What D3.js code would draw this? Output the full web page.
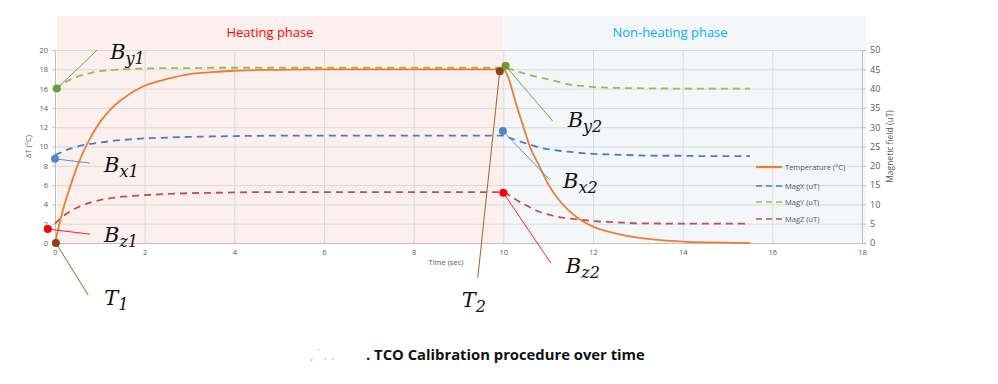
<!DOCTYPE html>
<html>
<head>
<meta charset="utf-8">
<script src="https://cdn.jsdelivr.net/npm/d3@7.9.0/dist/d3.min.js"></script>
<style>
  body { margin: 0; background: #fff; }
  svg { display: block; }
  .tick-label { font-family: "Open Sans", sans-serif; fill: #595959; }
  .math { font-family: "DejaVu Serif", serif; font-style: italic; fill: #111; }
</style>
</head>
<body>
<div id="chart"></div>
<script>
// ---- data (time in sec, temperature in °C, magnetic field in uT) ----
const heatTime = [0, 0.1, 0.2, 0.3, 0.4, 0.5, 0.6, 0.8, 1, 1.25, 1.5, 1.75, 2, 2.5, 3, 3.5, 4, 5, 6, 7, 8, 9, 10];
const heatTemp = [0, 2.0, 3.8, 5.3, 6.7, 8.0, 9.1, 11.0, 12.5, 13.9, 14.9, 15.7, 16.3, 17.0, 17.5, 17.7, 17.85, 17.95, 18, 18, 18, 18, 18];
const heatMagX = [22.8, 23.3, 23.8, 24.3, 24.7, 25.0, 25.3, 25.7, 26.0, 26.4, 26.7, 26.9, 27.1, 27.3, 27.5, 27.6, 27.7, 27.8, 27.8, 27.8, 27.8, 27.8, 27.8];
const heatMagY = [40, 40.6, 41.4, 42.1, 42.6, 43.1, 43.5, 44.1, 44.5, 44.8, 45.0, 45.1, 45.2, 45.3, 45.3, 45.4, 45.4, 45.4, 45.4, 45.4, 45.4, 45.4, 45.4];
const heatMagZ = [5, 6.1, 7.1, 7.9, 8.6, 9.2, 9.7, 10.5, 11.1, 11.6, 12.0, 12.2, 12.4, 12.7, 12.9, 13.0, 13.1, 13.2, 13.2, 13.2, 13.2, 13.2, 13.2];

const coolTime = [10, 10.1, 10.2, 10.3, 10.45, 10.6, 10.8, 11, 11.25, 11.5, 11.75, 12, 12.5, 13, 13.5, 14, 14.5, 15, 15.5];
const coolTemp = [18, 17.3, 15.8, 14.2, 12.0, 9.9, 8.0, 6.1, 4.4, 3.2, 2.3, 1.7, 1.0, 0.55, 0.3, 0.15, 0.07, 0.03, 0];
const coolMagX = [27.8, 27.4, 27.0, 26.6, 26.0, 25.5, 24.7, 24.3, 23.9, 23.6, 23.3, 23.1, 22.9, 22.7, 22.6, 22.6, 22.5, 22.5, 22.5];
const coolMagY = [45.4, 45.2, 44.9, 44.5, 44.0, 43.5, 42.9, 42.4, 41.7, 41.0, 40.7, 40.4, 40.2, 40.1, 40.05, 40, 40, 40, 40];
const coolMagZ = [13.2, 12.6, 11.8, 11.1, 10.1, 9.2, 8.1, 7.4, 6.7, 6.3, 6.0, 5.7, 5.4, 5.1, 5.05, 5.0, 5.0, 5.0, 5.0];

const xTicks = [0, 2, 4, 6, 8, 10, 12, 14, 16, 18];
const tempTicks = [0, 2, 4, 6, 8, 10, 12, 14, 16, 18, 20];
const magTicks = [0, 5, 10, 15, 20, 25, 30, 35, 40, 45, 50];

const seriesNames = ['Temperature (°C)', 'MagX (uT)', 'MagY (uT)', 'MagZ (uT)'];
const phaseNames = ['Heating phase', 'Non-heating phase'];

// annotated points: [label, subscript, time, value, axis, lineEndTime, lineEndValue]
const annotations = [
  ['B', 'y1', 0.04, 40, 'mag', 0.94, 50],
  ['B', 'x1', 0, 21.8, 'mag', 0.78, 20.7],
  ['B', 'z1', -0.16, 3.6, 'mag', 0.78, 2.3],
  ['T', '1', 0.02, 0, 'temp', 0.74, -5.4],
  ['B', 'y2', 10.05, 45.9, 'mag', 11.1, 31.6],
  ['B', 'x2', 9.99, 29.0, 'mag', 11.04, 16.3],
  ['B', 'z2', 10, 13, 'mag', 11.06, -5.2],
  ['T', '2', 9.92, 17.8, 'temp', 9.43, -3.6],
];

// ---- layout ----
const width = 998, height = 384;
const plot = { left: 55, right: 862, top: 50, bottom: 243 };

const colors = {
  temp: '#ED7D31', magX: '#4A7CC4', magY: '#9BBB59', magZ: '#C0504D',
};
const dotColors = { y: '#6F9A3B', x: '#4F86C6', z: '#FF0000', T: '#8B4513' };
const leaderColors = { y: '#7FA24A', x: '#5B8FD0', z: '#FF2020', T: '#A0612E' };
const labelOffset = [[13, 9], [14, 9], [14, 8], [16, 10], [15, 6], [13, 8], [15, 10], [-16, 29]];

const svg = d3.select('#chart').append('svg')
  .attr('width', width)
  .attr('height', height);

const xScale = d3.scaleLinear().domain([0, 18]).range([plot.left, plot.right]);
const yTemp = d3.scaleLinear().domain([0, 20]).range([plot.bottom, plot.top]);
const yMag = d3.scaleLinear().domain([0, 50]).range([plot.bottom, plot.top]);

// phase backgrounds
svg.append('rect')
  .attr('x', xScale(0) + 2).attr('y', 16)
  .attr('width', xScale(10) - xScale(0) - 2).attr('height', plot.bottom - 16)
  .attr('fill', '#FBF0EE');
svg.append('rect')
  .attr('x', xScale(10)).attr('y', 16)
  .attr('width', xScale(18) + 4 - xScale(10)).attr('height', plot.bottom - 16)
  .attr('fill', '#F3F7FA');

svg.append('text')
  .attr('x', 270).attr('y', 37)
  .attr('text-anchor', 'middle')
  .attr('font-family', '"Open Sans", sans-serif').attr('font-size', 13)
  .attr('fill', '#FF0000')
  .text(phaseNames[0]);
svg.append('text')
  .attr('x', 670).attr('y', 37)
  .attr('text-anchor', 'middle')
  .attr('font-family', '"Open Sans", sans-serif').attr('font-size', 13)
  .attr('fill', '#00B0F0')
  .text(phaseNames[1]);

// gridlines
svg.append('g')
  .attr('transform', `translate(${plot.left},0)`)
  .call(d3.axisLeft(yTemp).tickValues(tempTicks).tickFormat('').tickSize(-(plot.right - plot.left)))
  .call(g => g.select('.domain').remove())
  .call(g => g.selectAll('line').attr('stroke', '#D9D9D9'));
svg.append('g')
  .attr('transform', `translate(0,${plot.bottom})`)
  .call(d3.axisBottom(xScale).tickValues(xTicks).tickFormat('').tickSize(-(plot.bottom - plot.top)))
  .call(g => g.select('.domain').remove())
  .call(g => g.selectAll('line').attr('stroke', '#D9D9D9'));

// axes
const leftAxis = svg.append('g')
  .attr('transform', `translate(${plot.left},0)`)
  .call(d3.axisLeft(yTemp).tickValues(tempTicks).tickSize(3).tickPadding(4));
const rightAxis = svg.append('g')
  .attr('transform', `translate(${plot.right},0)`)
  .call(d3.axisRight(yMag).tickValues(magTicks).tickSize(4).tickPadding(4));
const bottomAxis = svg.append('g')
  .attr('transform', `translate(0,${plot.bottom})`)
  .call(d3.axisBottom(xScale).tickValues(xTicks).tickSize(0).tickPadding(7));

[leftAxis, rightAxis, bottomAxis].forEach(g => {
  g.selectAll('.domain').attr('stroke', '#BFBFBF');
  g.selectAll('.tick line').attr('stroke', '#BFBFBF');
  g.selectAll('.tick text')
    .attr('class', 'tick-label')
    .attr('font-size', 7.5);
});
rightAxis.selectAll('.tick text').attr('font-size', 9);

svg.append('text')
  .attr('transform', `translate(31,${(plot.top + plot.bottom) / 2}) rotate(-90)`)
  .attr('text-anchor', 'middle')
  .attr('class', 'tick-label').attr('font-size', 7.5)
  .text('ΔT (°C)');
svg.append('text')
  .attr('transform', `translate(893,${(plot.top + plot.bottom) / 2}) rotate(-90)`)
  .attr('text-anchor', 'middle')
  .attr('class', 'tick-label').attr('font-size', 8.5)
  .text('Magnetic field (uT)');
svg.append('text')
  .attr('x', 446).attr('y', 265)
  .attr('text-anchor', 'middle')
  .attr('class', 'tick-label').attr('font-size', 7.5)
  .text('Time (sec)');

// series
const series = [
  { time: heatTime.concat(coolTime.slice(1)), values: heatTemp.concat(coolTemp.slice(1)), y: yTemp, color: colors.temp, dash: null },
  { time: heatTime.concat(coolTime.slice(1)), values: heatMagX.concat(coolMagX.slice(1)), y: yMag, color: colors.magX, dash: '7,5' },
  { time: heatTime.concat(coolTime.slice(1)), values: heatMagY.concat(coolMagY.slice(1)), y: yMag, color: colors.magY, dash: '7,5' },
  { time: heatTime.concat(coolTime.slice(1)), values: heatMagZ.concat(coolMagZ.slice(1)), y: yMag, color: colors.magZ, dash: '7,5' },
];

const lineGroup = svg.append('g');
// draw magnetic series first, temperature on top
[1, 2, 3, 0].forEach(i => {
  const s = series[i];
  const pts = s.time.map((t, j) => [t, s.values[j]]);
  const line = d3.line()
    .x(d => xScale(d[0]))
    .y(d => s.y(d[1]))
    .curve(d3.curveMonotoneX);
  lineGroup.append('path')
    .attr('d', line(pts))
    .attr('fill', 'none')
    .attr('stroke', s.color)
    .attr('stroke-width', 1.8)
    .attr('stroke-dasharray', s.dash);
});

// legend
const legend = svg.append('g').attr('transform', 'translate(756,167)');
const legendY = [0, 19, 35, 52];
series.forEach((s, i) => {
  const g = legend.append('g').attr('transform', `translate(0,${legendY[i]})`);
  g.append('line')
    .attr('x1', 0).attr('x2', 26)
    .attr('stroke', s.color)
    .attr('stroke-width', i === 0 ? 2.2 : 1.5)
    .attr('stroke-dasharray', i === 0 ? null : '6,4');
  g.append('text')
    .attr('x', 29).attr('y', 3)
    .attr('class', 'tick-label').attr('font-size', 7.5)
    .text(seriesNames[i]);
});

// annotations
const ann = svg.append('g');
annotations.forEach(([name, sub, t, v, axis, t2, v2], i) => {
  const yS = axis === 'mag' ? yMag : yTemp;
  const key = name === 'T' ? 'T' : sub[0];
  const x0 = xScale(t), y0 = yS(v);
  const x1 = xScale(t2), y1 = yS(v2);
  ann.append('line')
    .attr('x1', x0).attr('y1', y0).attr('x2', x1).attr('y2', y1)
    .attr('stroke', leaderColors[key]).attr('stroke-width', 1);
  ann.append('circle')
    .attr('cx', x0).attr('cy', y0).attr('r', 4)
    .attr('fill', dotColors[key]);
  const [dx, dy] = labelOffset[i];
  const txt = ann.append('text')
    .attr('class', 'math')
    .attr('x', x1 + dx).attr('y', y1 + dy)
    .attr('font-size', 21);
  txt.append('tspan').text(name);
  txt.append('tspan').attr('dy', 5).attr('font-size', 16).text(sub);
});

// caption
svg.append('text')
  .attr('x', 310).attr('y', 360)
  .attr('font-family', '"Open Sans", sans-serif').attr('font-size', 14)
  .attr('fill', '#C8C8C8')
  .text(', ˙ . .');
svg.append('text')
  .attr('x', 366).attr('y', 360)
  .attr('font-family', '"Open Sans", sans-serif').attr('font-size', 14.8)
  .attr('font-weight', 700)
  .attr('fill', '#111')
  .text('. TCO Calibration procedure over time');
</script>
</body>
</html>
